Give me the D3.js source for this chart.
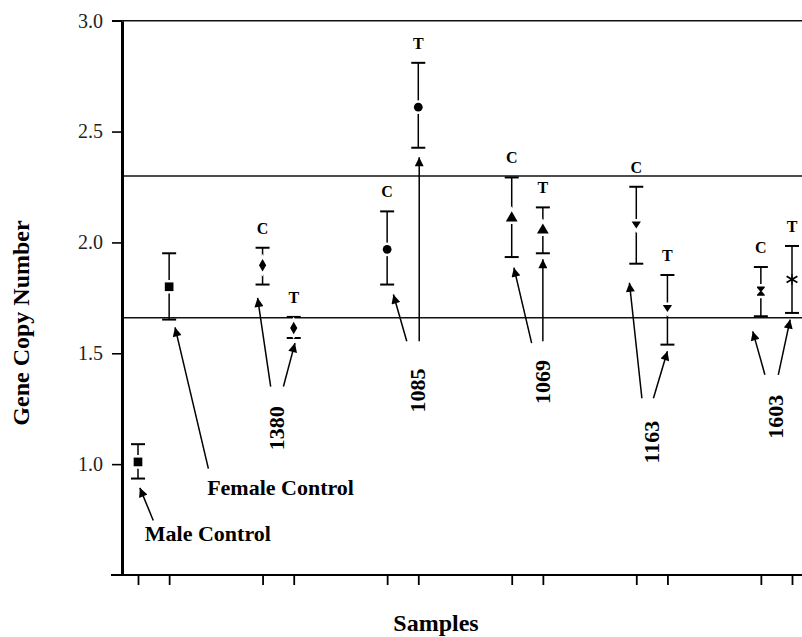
<!DOCTYPE html>
<html lang="en">
<head>
<meta charset="UTF-8">
<title>Gene Copy Number</title>
<style>
  body { margin: 0; background: #fff; }
  svg text { font-family: "Liberation Serif", "Times New Roman", serif; }
</style>
</head>
<body>
<script src="https://cdn.jsdelivr.net/npm/d3@7/dist/d3.min.js"></script>
<script>
// samples, in order along the x axis
var samples = ["Male Control", "Female Control", "1380 C", "1380 T", "1085 C", "1085 T",
               "1069 C", "1069 T", "1163 C", "1163 T", "1603 C", "1603 T"];
var slots = [0, 1, 4, 5, 8, 9, 12, 13, 16, 17, 20, 21]; // position index on x
var means = [1.01, 1.80, 1.897, 1.614, 1.969, 2.61, 2.11, 2.055, 2.082, 1.705, 1.78, 1.833];
var upper = [1.09, 1.951, 1.976, 1.664, 2.14, 2.81, 2.293, 2.158, 2.251, 1.853, 1.889, 1.984];
var lower = [0.935, 1.652, 1.81, 1.569, 1.81, 2.427, 1.934, 1.951, 1.904, 1.539, 1.667, 1.682];
var tags = ["", "", "C", "T", "C", "T", "C", "T", "C", "T", "C", "T"];
var shapes = ["square", "square", "diamond", "diamond", "circle", "circle",
              "triangle", "triangle", "triangleDown", "triangleDown", "hourglass", "asterisk"];
var refLines = [2.3, 1.66];
var yTicks = [1.0, 1.5, 2.0, 2.5, 3.0];

// patient number labels with their arrows (x in slot units, y in copy number)
var patients = ["1380", "1085", "1069", "1163", "1603"];
var patientLabelAt = [[4.45, 1.162], [8.98, 1.332], [12.99, 1.370], [16.47, 1.099], [20.46, 1.214]];
var arrows = [
  [[0.49, 0.746], [0.06, 0.893]],
  [[2.26, 0.98], [1.19, 1.617]],
  [[4.26, 1.35], [3.84, 1.75]], [[4.67, 1.35], [5.04, 1.546]],
  [[8.63, 1.554], [8.20, 1.765]], [[9.03, 1.554], [9.03, 2.384]],
  [[12.64, 1.546], [12.07, 1.886]], [[13.0, 1.554], [13.0, 1.924]],
  [[16.18, 1.297], [15.78, 1.818]], [[16.55, 1.297], [17.0, 1.509]],
  [[20.13, 1.403], [19.74, 1.599]], [[20.56, 1.403], [20.94, 1.652]]
];
var controlLabels = ["Male Control", "Female Control"];
var controlLabelAt = [[0.22, 0.653], [2.22, 0.862]];

var W = 802, H = 637;
var svg = d3.select("body").append("svg").attr("width", W).attr("height", H);

var x = d3.scaleLinear().domain([0, 21]).range([138, 792]);
var y = d3.scaleLinear().domain([0.5, 3.0]).range([575, 20.7]);
var axisX = 122, right = 802;

// top frame line and reference lines
svg.append("line").attr("x1", 112).attr("x2", right).attr("y1", y(3)).attr("y2", y(3))
  .attr("stroke", "#111").attr("stroke-width", 1.6);
svg.selectAll(".ref").data(refLines).enter().append("line")
  .attr("x1", axisX).attr("x2", right)
  .attr("y1", function (d) { return y(d); }).attr("y2", function (d) { return y(d); })
  .attr("stroke", "#111").attr("stroke-width", 1.5);

// y axis
var yAxis = svg.append("g").attr("transform", "translate(" + axisX + ",0)")
  .call(d3.axisLeft(y).tickValues(yTicks).tickSize(10).tickSizeOuter(0).tickPadding(9)
    .tickFormat(d3.format(".1f")));
yAxis.attr("font-family", null);
yAxis.select(".domain").attr("stroke", "#000").attr("stroke-width", 3);
yAxis.selectAll(".tick line").attr("stroke", "#000").attr("stroke-width", 1.6);
yAxis.selectAll(".tick text").attr("font-size", 20).attr("fill", "#222");

// x axis baseline + ticks
svg.append("line").attr("x1", 111).attr("x2", right).attr("y1", 575).attr("y2", 575)
  .attr("stroke", "#000").attr("stroke-width", 2);
var xAxis = svg.append("g").attr("transform", "translate(0,575)")
  .call(d3.axisBottom(x).tickValues(slots).tickSize(10).tickSizeOuter(0).tickFormat(""));
xAxis.select(".domain").remove();
xAxis.selectAll(".tick line").attr("stroke", "#000").attr("stroke-width", 1.8);

// axis titles
svg.append("text").attr("transform", "translate(29,323) rotate(-90)")
  .attr("text-anchor", "middle").attr("font-size", 24).attr("font-weight", "bold")
  .text("Gene Copy Number");
svg.append("text").attr("x", 436).attr("y", 631).attr("text-anchor", "middle")
  .attr("font-size", 24).attr("font-weight", "bold").text("Samples");

// symbols
var hourglass = {
  draw: function (ctx, size) {
    var s = Math.sqrt(size) / 2;
    ctx.moveTo(-s, -s * 1.2); ctx.lineTo(s, -s * 1.2); ctx.lineTo(s, -s * 0.9);
    ctx.lineTo(s * 0.2, 0); ctx.lineTo(s, s * 0.9); ctx.lineTo(s, s * 1.2);
    ctx.lineTo(-s, s * 1.2); ctx.lineTo(-s, s * 0.9); ctx.lineTo(-s * 0.2, 0);
    ctx.lineTo(-s, -s * 0.9); ctx.closePath();
  }
};
var triangleDown = {
  draw: function (ctx, size) {
    var s = Math.sqrt(size) / 1.6;
    ctx.moveTo(-s, -s * 0.6); ctx.lineTo(s, -s * 0.6); ctx.lineTo(0, s * 0.9); ctx.closePath();
  }
};
var symbolFor = {
  square: [d3.symbolSquare, 75],
  diamond: [d3.symbolDiamond, 45],
  circle: [d3.symbolCircle, 60],
  triangle: [d3.symbolTriangle, 60],
  triangleDown: [triangleDown, 55],
  hourglass: [hourglass, 60],
  asterisk: [d3.symbolAsterisk, 110]
};

var pts = svg.selectAll(".pt").data(d3.range(samples.length)).enter().append("g")
  .attr("transform", function (i) { return "translate(" + x(slots[i]) + ",0)"; });

pts.append("line").attr("y1", function (i) { return y(upper[i]); })
  .attr("y2", function (i) { return y(lower[i]); })
  .attr("stroke", "#000").attr("stroke-width", 1.5);
pts.append("line").attr("x1", -7).attr("x2", 7)
  .attr("y1", function (i) { return y(upper[i]); }).attr("y2", function (i) { return y(upper[i]); })
  .attr("stroke", "#000").attr("stroke-width", 2);
pts.append("line").attr("x1", -7).attr("x2", 7)
  .attr("y1", function (i) { return y(lower[i]); }).attr("y2", function (i) { return y(lower[i]); })
  .attr("stroke", "#000").attr("stroke-width", 2);

// white halo under every marker, then the marker itself
function markerPath(i) {
  var s = symbolFor[shapes[i]];
  return d3.symbol().type(s[0]).size(s[1])();
}
pts.append("path")
  .attr("transform", function (i) { return "translate(0," + y(means[i]) + ")"; })
  .attr("d", markerPath)
  .attr("fill", "#fff").attr("stroke", "#fff").attr("stroke-width", 5);
pts.append("path")
  .attr("transform", function (i) { return "translate(0," + y(means[i]) + ")"; })
  .attr("d", markerPath)
  .attr("fill", "#000")
  .attr("stroke", function (i) { return shapes[i] === "asterisk" ? "#000" : "none"; })
  .attr("stroke-width", 1.8);

pts.append("text").attr("y", function (i) { return y(upper[i]) - 14; })
  .attr("text-anchor", "middle").attr("font-size", 16).attr("font-weight", "bold")
  .text(function (i) { return tags[i]; });

// arrows
svg.append("defs").append("marker").attr("id", "head")
  .attr("viewBox", "0 0 10 10").attr("refX", 10).attr("refY", 5)
  .attr("markerUnits", "userSpaceOnUse").attr("markerWidth", 11).attr("markerHeight", 9)
  .attr("orient", "auto")
  .append("path").attr("d", "M0,0 L10,5 L0,10 z").attr("fill", "#000");

svg.selectAll(".arrow").data(arrows).enter().append("line")
  .attr("x1", function (d) { return x(d[0][0]); }).attr("y1", function (d) { return y(d[0][1]); })
  .attr("x2", function (d) { return x(d[1][0]); }).attr("y2", function (d) { return y(d[1][1]); })
  .attr("stroke", "#000").attr("stroke-width", 1.5).attr("marker-end", "url(#head)");

// rotated patient numbers
svg.selectAll(".pid").data(patients).enter().append("text")
  .attr("transform", function (d, i) {
    return "translate(" + x(patientLabelAt[i][0]) + "," + y(patientLabelAt[i][1]) + ") rotate(-90)";
  })
  .attr("text-anchor", "middle").attr("dy", "0.35em")
  .attr("font-size", 22).attr("font-weight", "bold").text(function (d) { return d; });

// control labels
svg.selectAll(".ctl").data(controlLabels).enter().append("text")
  .attr("x", function (d, i) { return x(controlLabelAt[i][0]); })
  .attr("y", function (d, i) { return y(controlLabelAt[i][1]); })
  .attr("font-size", 22).attr("font-weight", "bold").text(function (d) { return d; });
</script>
</body>
</html>
